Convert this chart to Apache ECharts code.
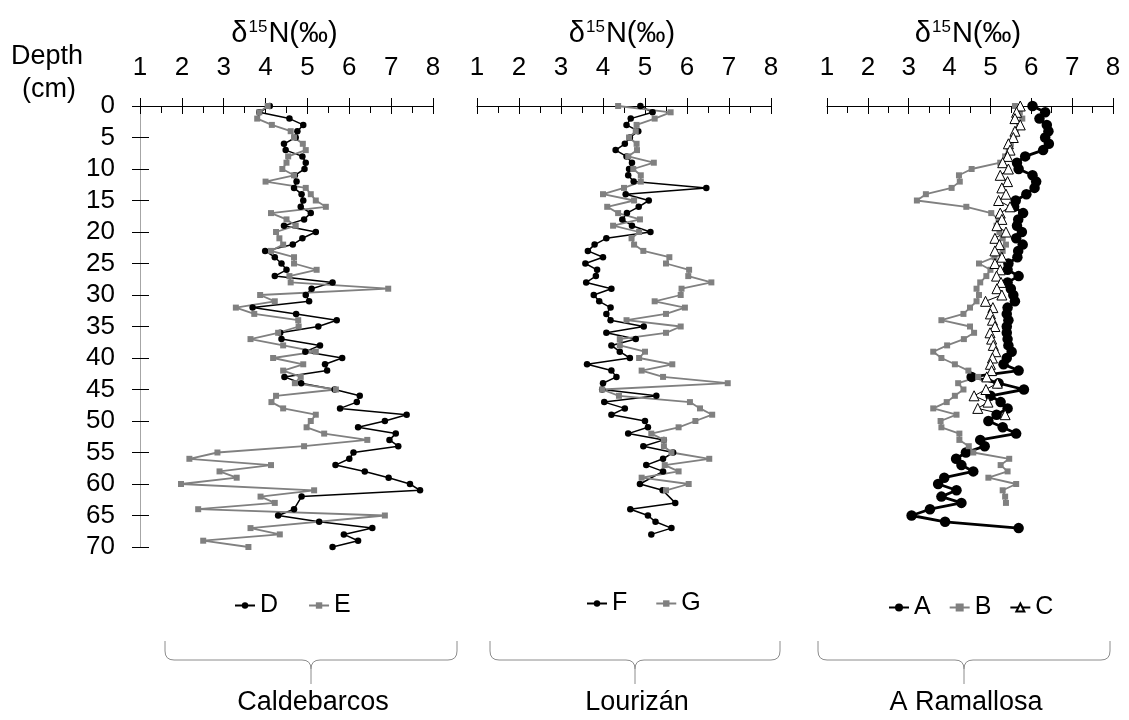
<!DOCTYPE html>
<html><head><meta charset="utf-8">
<script src="https://cdn.jsdelivr.net/npm/echarts@6/dist/echarts.min.js"></script>
<style>html,body{margin:0;padding:0;background:#fff}#c{width:1129px;height:720px}</style>
</head><body><div id="c"></div>
<script>
// ---- data (δ15N ‰ values by depth in cm) ----
const depthD = [0,1,2,3,4,5,6,7,8,9,10,11,12,13,14,15,16,17,18,19,20,21,22,23,24,25,26,27,28,29,30,31,32,33,34,35,36,37,38,39,40,41,42,43,44,45,46,47,48,49,50,51,52,53,54,55,56,57,58,59,60,61,62,64,65,66,67,68,69,70];
const valD = [4.10,3.85,4.57,4.90,4.76,4.72,4.44,4.48,4.88,4.96,
 4.93,4.70,4.74,4.68,4.86,4.90,4.84,5.08,4.92,4.44,
 5.20,4.88,4.65,3.99,4.22,4.38,4.50,4.22,5.60,5.10,
 4.96,5.04,3.69,4.73,5.70,5.26,4.35,4.38,5.30,4.95,
 5.83,5.42,5.47,4.45,4.85,5.65,6.25,6.18,5.78,7.37,
 6.85,6.21,7.11,6.96,7.17,6.10,6.00,5.67,6.37,6.94,
 7.45,7.69,4.86,
 4.68,4.30,5.28,6.55,5.87,6.21,5.60];

const depthE = [0,1,2,3,4,5,6,7,8,9,10,11,12,13,14,15,16,17,18,19,20,21,22,23,24,25,26,27,28,29,30,31,32,33,34,35,36,37,38,39,40,41,42,43,44,45,46,47,48,49,50,51,52,53,54,55,56,57,58,59,60,61,62,63,64,65,67,68,69,70];
const valE = [4.05,3.85,3.80,4.15,4.60,4.68,4.89,4.96,4.54,4.50,
 4.40,4.68,4.00,4.96,5.08,5.20,5.44,4.13,4.50,4.72,
 4.25,4.33,4.42,4.13,4.68,4.68,5.22,4.57,4.60,6.93,
 3.87,4.22,3.29,3.73,4.78,4.79,4.30,3.64,4.42,5.20,
 4.18,4.90,4.42,4.84,4.70,5.68,4.25,4.14,4.42,5.20,
 5.08,4.98,5.40,6.43,4.92,2.85,2.18,4.13,2.90,3.31,
 1.98,5.16,3.88,4.22,2.39,6.85,
 3.64,4.34,2.51,3.59];

const depthF = [0,1,2,3,4,5,6,7,8,9,10,11,12,13,14,15,16,17,18,19,20,21,22,23,24,25,26,27,28,29,30,31,32,33,34,35,36,37,38,39,40,41,42,43,44,45,46,47,48,49,50,51,52,53,54,55,56,57,58,60,61,63,64,65,66,67,68];
const valF = [4.89,5.18,4.66,4.56,4.84,4.64,4.52,4.30,4.56,4.69,
 4.62,4.60,4.73,6.46,4.54,5.09,4.85,4.57,4.46,4.69,
 5.13,4.08,3.80,3.64,4.00,3.58,3.86,3.83,3.60,4.20,
 3.78,3.91,4.18,4.08,4.18,4.97,4.08,4.78,4.20,4.40,
 4.64,3.62,4.20,4.32,4.00,3.98,5.27,4.03,4.52,4.20,
 5.00,5.07,4.60,5.45,4.96,5.67,5.43,5.03,5.43,
 4.88,5.42,
 5.72,4.65,5.07,5.25,5.63,5.15];

const depthG = [0,1,2,3,4,5,6,7,8,9,10,11,12,13,14,15,16,17,18,19,20,21,22,23,24,25,26,27,28,29,30,31,32,33,34,35,36,37,38,39,40,41,42,43,44,45,46,47,48,49,50,51,52,53,54,55,56,57,58,59,60,61];
const valG = [4.36,5.61,5.23,4.80,4.78,4.62,4.80,4.81,4.60,5.21,
 4.72,4.90,4.90,4.50,4.00,4.74,4.10,4.36,4.88,4.24,
 4.86,4.68,4.74,4.96,5.58,5.50,6.05,6.03,6.58,5.87,
 5.85,5.23,5.95,5.50,4.56,5.85,5.50,4.40,4.40,5.00,
 4.86,5.65,4.92,5.43,6.97,3.98,4.38,6.07,6.31,6.60,
 6.20,5.80,5.15,5.45,5.45,5.63,6.53,5.47,5.80,4.92,
 6.04,5.50];

const depthA = [0,1,2,3,4,5,6,7,8,9,10,11,12,13,14,15,16,17,18,19,20,21,22,23,24,25,26,27,28,29,30,31,32,33,34,35,36,37,38,39,40,41,42,43,44,45,46,47,48,49,50,51,52,53,54,55,56,57,58,59,60,61,62,63,64,65,66,67];
const valA = [6.03,6.34,6.20,6.38,6.42,6.34,6.43,6.29,5.85,5.65,
 5.69,6.03,6.12,6.08,5.88,5.62,5.58,5.80,5.68,5.65,
 5.77,5.63,5.79,5.68,5.66,5.44,5.42,5.69,5.42,5.50,
 5.56,5.60,5.42,5.40,5.44,5.40,5.40,5.42,5.44,5.52,
 5.40,5.32,5.69,4.54,5.20,5.82,5.00,5.25,5.42,5.15,
 4.95,5.30,5.63,4.75,4.86,4.40,4.16,4.29,4.58,3.87,
 3.72,4.17,3.80,4.29,3.52,3.07,3.89,5.69];

const depthB = [0,1,2,3,4,5,6,7,8,9,10,11,12,13,14,15,16,17,18,19,20,21,22,23,24,25,26,27,28,29,30,31,32,33,34,35,36,37,38,39,40,41,42,43,44,45,46,47,48,49,50,51,52,53,54,55,56,57,58,59,60,61,62,63];
const valB = [5.60,5.72,5.78,5.70,5.62,5.58,5.50,5.45,5.36,5.24,
 4.54,4.23,4.25,4.05,3.42,3.20,4.41,5.02,5.20,5.15,
 5.22,5.30,5.38,5.30,5.10,4.72,5.00,4.90,4.75,4.66,
 4.72,4.66,4.50,4.34,3.80,4.50,4.60,4.35,3.94,3.60,
 3.80,4.13,4.46,4.70,4.21,4.34,4.13,3.93,3.60,4.17,
 3.78,3.80,4.24,4.24,4.47,4.58,5.46,5.25,5.42,4.95,
 5.63,5.30,5.36,5.38];

const depthC = [0,1,2,3,4,5,6,7,8,9,10,11,12,13,14,15,16,17,18,19,20,21,22,23,24,25,26,27,28,29,30,31,32,33,34,35,36,37,38,39,40,41,42,43,44,45,46,47,48,49];
const valC = [5.73,5.64,5.60,5.73,5.60,5.56,5.44,5.48,5.42,5.30,
 5.44,5.24,5.42,5.28,5.38,5.20,5.48,5.24,5.28,5.16,
 5.38,5.11,5.22,5.11,5.28,5.11,5.24,5.15,5.26,5.16,
 5.28,4.88,5.06,5.00,5.05,5.11,4.99,5.03,5.07,5.13,
 5.05,5.00,5.03,4.91,5.17,4.89,4.60,4.94,4.69,5.36];

const sites = ['Caldebarcos', 'Lourizán', 'A Ramallosa'];
const axisTitle = ['δ', '15', 'N(‰)'];
const depthLabel = ['Depth', '(cm)'];
const xMin = 1, xMax = 8, xStep = 1;
const dMin = 0, dMax = 70, dStep = 5;

// ---- layout ----
const FONT = 'Liberation Sans, Arial, sans-serif';
const panels = [
  {left: 140, width: 293},
  {left: 477, width: 294},
  {left: 827, width: 286}
];
const TOP = 106, HEIGHT = 441;
const GREY = '#808080';

const grids = panels.map(p => ({left: p.left, top: TOP, width: p.width, height: HEIGHT, containLabel: false}));

const xAxes = [];
panels.forEach((p, i) => {
  xAxes.push({
    gridIndex: i, type: 'value', position: 'top', min: xMin, max: xMax, interval: xStep,
    axisLine: {show: true, onZero: false, lineStyle: {color: '#000', width: 1}},
    axisTick: {show: true, inside: false, length: 8, lineStyle: {color: '#000', width: 1}},
    axisLabel: {show: true, margin: 25, fontSize: 26, color: '#000', fontFamily: FONT},
    splitLine: {show: false}
  });
  xAxes.push({
    gridIndex: i, type: 'value', position: 'top', min: xMin, max: xMax, interval: xStep,
    axisLine: {show: false, onZero: false},
    axisTick: {show: true, inside: true, length: 8, lineStyle: {color: '#000', width: 1}},
    minorTick: {show: true, splitNumber: 2, length: 7, lineStyle: {color: '#000', width: 1}},
    axisLabel: {show: false},
    splitLine: {show: false}
  });
});

const yAxes = [
  {
    gridIndex: 0, type: 'value', position: 'left', inverse: true, min: dMin, max: dMax, interval: dStep,
    axisLine: {show: true, onZero: false, lineStyle: {color: '#a6a6a6', width: 1}},
    axisTick: {show: true, inside: false, length: 8, lineStyle: {color: '#000', width: 1}},
    axisLabel: {show: true, margin: 25, fontSize: 26, color: '#000', fontFamily: FONT},
    splitLine: {show: false}
  },
  {
    gridIndex: 0, type: 'value', position: 'left', inverse: true, min: dMin, max: dMax, interval: dStep,
    axisLine: {show: false, onZero: false},
    axisTick: {show: true, inside: true, length: 9, lineStyle: {color: '#000', width: 1}},
    axisLabel: {show: false},
    splitLine: {show: false}
  },
  {gridIndex: 1, type: 'value', position: 'left', inverse: true, min: dMin, max: dMax, show: false},
  {gridIndex: 2, type: 'value', position: 'left', inverse: true, min: dMin, max: dMax, show: false}
];

function pairs(vals, depths) { return vals.map((v, k) => [v, depths[k]]); }

function mk(name, vals, depths, gi, style) {
  return Object.assign({
    name, type: 'line', xAxisIndex: gi * 2, yAxisIndex: gi === 0 ? 0 : gi + 1,
    data: pairs(vals, depths), animation: false, silent: true,
    emphasis: {disabled: true}
  }, style);
}
const blackSmall = {symbol: 'circle', symbolSize: 6.5, lineStyle: {color: '#000', width: 1.5}, itemStyle: {color: '#000'}};
const greySmall = {symbol: 'rect', symbolSize: 6, lineStyle: {color: GREY, width: 1.8}, itemStyle: {color: GREY}};

const series = [
  mk('D', valD, depthD, 0, blackSmall),
  mk('E', valE, depthE, 0, greySmall),
  mk('F', valF, depthF, 1, blackSmall),
  mk('G', valG, depthG, 1, greySmall),
  mk('A', valA, depthA, 2, {symbol: 'circle', symbolSize: 10.5, lineStyle: {color: '#000', width: 2.8}, itemStyle: {color: '#000'}}),
  mk('B', valB, depthB, 2, {symbol: 'rect', symbolSize: 6, lineStyle: {color: GREY, width: 1.8}, itemStyle: {color: GREY}}),
  mk('C', valC, depthC, 2, {symbol: 'triangle', symbolSize: 10, lineStyle: {color: '#000', width: 1}, itemStyle: {color: '#fff', borderColor: '#000', borderWidth: 1}})
];

const legendCommon = {
  orient: 'horizontal', itemWidth: 20, itemHeight: 8, selectedMode: false,
  textStyle: {fontSize: 25, color: '#000', fontFamily: FONT}
};
const legends = [
  Object.assign({}, legendCommon, {data: ['D', 'E'], left: 229, top: 588, itemGap: 30}),
  Object.assign({}, legendCommon, {data: ['F', 'G'], left: 581, top: 586, itemGap: 28}),
  Object.assign({}, legendCommon, {data: ['A', 'B', 'C'], left: 883, top: 590, itemGap: 18, itemHeight: 10})
];

// ---- graphic: titles, depth label, braces, site names ----
const graphic = [];
panels.forEach((p, i) => {
  const cx = p.left + p.width / 2;
  graphic.push({
    type: 'text', silent: true,
    style: {
      x: cx - 2, y: 16, align: 'center', verticalAlign: 'top',
      text: '{a|' + axisTitle[0] + '}{s|' + axisTitle[1] + '}{a|' + axisTitle[2] + '}',
      rich: {
        a: {fontSize: 29, fontFamily: FONT, fill: '#000', lineHeight: 32, verticalAlign: 'bottom'},
        s: {fontSize: 17, fontFamily: FONT, fill: '#000', lineHeight: 32, verticalAlign: 'top', padding: [3, 1, 0, 1]}
      }
    }
  });
});
graphic.push({type: 'text', silent: true, style: {text: depthLabel[0], x: 47, y: 57, align: 'center', verticalAlign: 'middle', fontSize: 27, fontFamily: FONT, fill: '#000'}});
graphic.push({type: 'text', silent: true, style: {text: depthLabel[1], x: 49, y: 90, align: 'center', verticalAlign: 'middle', fontSize: 27, fontFamily: FONT, fill: '#000'}});

const braces = [[165, 457], [490, 780], [818, 1110]];
const braceStyle = {stroke: '#8c8c8c', lineWidth: 1, fill: null};
braces.forEach((b, i) => {
  const x1 = b[0], x2 = b[1], xc = (x1 + x2) / 2;
  const yt = 641, yh = 660, yb = 684, r = 9;
  const segs = [
    {type: 'line', shape: {x1: x1, y1: yt, x2: x1, y2: yh - r}},
    {type: 'bezierCurve', shape: {x1: x1, y1: yh - r, cpx1: x1, cpy1: yh, x2: x1 + r, y2: yh}},
    {type: 'line', shape: {x1: x1 + r, y1: yh, x2: xc - r, y2: yh}},
    {type: 'bezierCurve', shape: {x1: xc - r, y1: yh, cpx1: xc, cpy1: yh, x2: xc, y2: yh + r}},
    {type: 'line', shape: {x1: xc, y1: yh + r, x2: xc, y2: yb}},
    {type: 'bezierCurve', shape: {x1: xc, y1: yh + r, cpx1: xc, cpy1: yh, x2: xc + r, y2: yh}},
    {type: 'line', shape: {x1: xc + r, y1: yh, x2: x2 - r, y2: yh}},
    {type: 'bezierCurve', shape: {x1: x2 - r, y1: yh, cpx1: x2, cpy1: yh, x2: x2, y2: yh - r}},
    {type: 'line', shape: {x1: x2, y1: yh - r, x2: x2, y2: yt}}
  ];
  segs.forEach(s => { s.silent = true; s.style = Object.assign({}, braceStyle); graphic.push(s); });
  graphic.push({type: 'text', silent: true, style: {text: sites[i], x: xc + 2, y: 703, align: 'center', verticalAlign: 'middle', fontSize: 27, fontFamily: FONT, fill: '#000'}});
});

const chart = echarts.init(document.getElementById('c'), null, {renderer: 'canvas'});
chart.setOption({
  backgroundColor: '#fff',
  animation: false,
  grid: grids,
  xAxis: xAxes,
  yAxis: yAxes,
  legend: legends,
  series: series,
  graphic: graphic
});
</script>
</body></html>
